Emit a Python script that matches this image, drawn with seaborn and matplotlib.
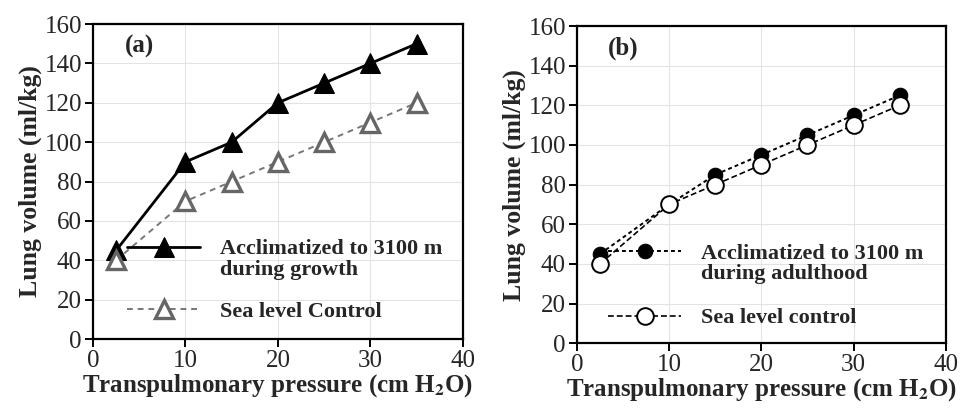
import matplotlib
matplotlib.use("Agg")
import matplotlib.pyplot as plt
from matplotlib.lines import Line2D
import seaborn as sns
import numpy as np

pressure = [2.5, 10, 15, 20, 25, 30, 35]
growth_accl = [45, 90, 100, 120, 130, 140, 150]
growth_ctrl = [40, 70, 80, 90, 100, 110, 120]
adult_accl = [45, 70, 85, 95, 105, 115, 125]
adult_ctrl = [40, 70, 80, 90, 100, 110, 120]

sns.set_theme(style="whitegrid")
plt.rcParams['font.family'] = ['Liberation Serif', 'DejaVu Serif']
plt.rcParams['mathtext.fontset'] = 'stix'

fig = plt.figure(figsize=(9.73, 4.08), dpi=100)
axa = fig.add_axes([0.0956, 0.169, 0.380, 0.772])
axb = fig.add_axes([0.593, 0.159, 0.379, 0.777])

sns.lineplot(x=pressure, y=growth_accl, ax=axa, color='black', lw=2.0, marker='^',
             markersize=14, markeredgecolor='black', markerfacecolor='black',
             label='Acclimatized to 3100 m')
sns.lineplot(x=pressure, y=growth_ctrl, ax=axa, color='#777777', lw=1.4, marker='^',
             linestyle=(0, (3, 2.5)), markersize=12.5, markeredgecolor='#666666',
             markerfacecolor='white', markeredgewidth=2.4, label='Sea level Control')

sns.lineplot(x=pressure, y=adult_accl, ax=axb, color='black', lw=1.4, marker='o',
             linestyle=(0, (2, 1.6)), markersize=10.5, markeredgecolor='black',
             markerfacecolor='black', label='Acclimatized to 3100 m')
sns.lineplot(x=pressure, y=adult_ctrl, ax=axb, color='black', lw=1.2, marker='o',
             linestyle=(0, (3.5, 1.8)), markersize=12, markeredgecolor='black',
             markerfacecolor='white', markeredgewidth=1.4, label='Sea level control')

second_lines = {axa: 'during growth', axb: 'during adulthood'}
geom = {axa: (0.092, 0.318, 0.086), axb: (0.084, 0.316, 0.079)}

for ax, tag in [(axa, '(a)'), (axb, '(b)')]:
    ax.set_xlim(0, 40)
    ax.set_ylim(0, 160)
    ax.set_xticks([0, 10, 20, 30, 40])
    ax.set_yticks(range(0, 161, 20))
    ax.grid(True, color='#e3e3e3', lw=0.8)
    ax.set_facecolor('white')
    for s in ax.spines.values():
        s.set_color('black')
        s.set_linewidth(1.6)
    ax.tick_params(axis='both', which='major', labelsize=18, length=6, width=1.4,
                   color='black', direction='out', left=True, bottom=True, pad=2)
    ax.set_ylabel('Lung volume (ml/kg)', fontsize=18.5, fontweight='bold', labelpad=2)
    ax.set_xlabel(r'Transpulmonary pressure (cm H$_{\mathbf{2}}$O)', fontsize=18,
                  fontweight='bold', labelpad=0)
    ax.text(0.085, 0.93, tag, transform=ax.transAxes, fontsize=18, fontweight='bold',
            va='center', ha='left')

    handles, labels = ax.get_legend_handles_labels()
    x0, ytop, y2 = geom[ax]
    blank = Line2D([], [], linestyle='none', marker=None)
    leg1 = ax.legend([handles[0], blank], [labels[0], second_lines[ax]],
                     loc='upper left', bbox_to_anchor=(x0, ytop), frameon=False,
                     prop={'weight': 'bold', 'size': 16}, handlelength=3.3,
                     labelspacing=0.0, handletextpad=0.9, borderaxespad=0, borderpad=0)
    ax.add_artist(leg1)
    ax.legend([handles[1]], [labels[1]], loc='center left', bbox_to_anchor=(x0, y2),
              frameon=False, prop={'weight': 'bold', 'size': 16}, handlelength=3.3,
              handletextpad=0.9, borderaxespad=0, borderpad=0)

fig.savefig('out.png', dpi=100, facecolor='white')
